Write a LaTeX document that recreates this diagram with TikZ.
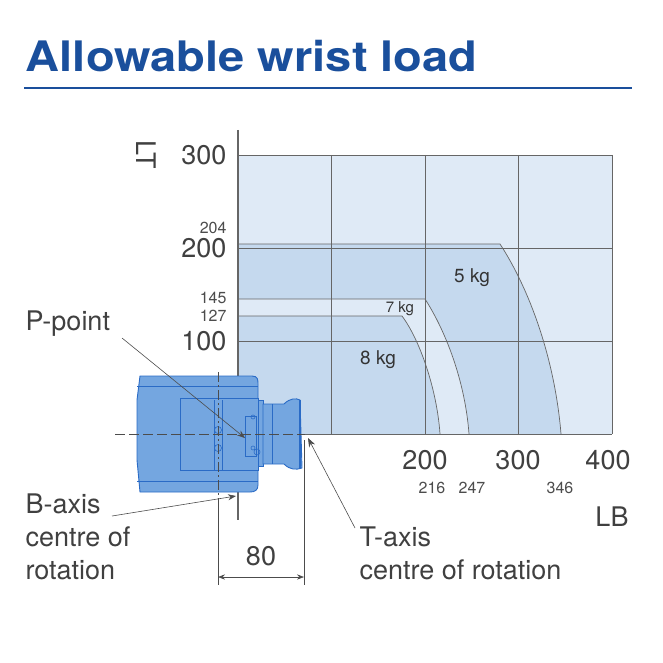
\documentclass[tikz,border=0pt]{standalone}
\usepackage{fontspec}
\setmainfont{TeX Gyre Heros}
\usetikzlibrary{arrows.meta}
\definecolor{ttl}{HTML}{1A4F9C}
\definecolor{lightb}{HTML}{DFEAF6}
\definecolor{medb}{HTML}{C5D9EE}
\definecolor{robo}{HTML}{74A6E0}
\definecolor{robod}{HTML}{2A6BC6}
\definecolor{grid}{HTML}{666666}
\begin{document}
\begin{tikzpicture}[x=1pt,y=-1pt,
  gridl/.style={draw=grid,line width=0.8pt},
  lbl/.style={font=\fontsize{27}{33}\selectfont,text=black!75},
  sm/.style={font=\fontsize{16}{16}\selectfont,text=black!70},
  lead/.style={draw=black!70,line width=0.6pt},
  rob/.style={fill=robo,draw=robod,line width=0.9pt}]
\useasboundingbox (0,0) rectangle (663,663);
\node[anchor=west,font=\bfseries\fontsize{42}{42}\selectfont,text=ttl,xscale=1.12] (title) at (22,56) {Allowable wrist load};
\draw[ttl,line width=1.2pt] (24,88) -- (632,88);
% chart
\fill[lightb] (238,155) rectangle (612,434);
\fill[medb] (238,244) -- (500,244) .. controls (530,290) and (555,360) .. (561,434) -- (238,434) -- cycle;
\fill[lightb] (238,299) -- (425,299) .. controls (445,330) and (465,380) .. (469,434) -- (238,434) -- cycle;
\fill[medb] (238,316) -- (402,316) .. controls (420,340) and (437,390) .. (440,434) -- (238,434) -- cycle;
\foreach \x in {331,425,518,612} \draw[gridl] (\x,155) -- (\x,434);
\foreach \y in {155,248,341} \draw[gridl] (238,\y) -- (612,\y);
\draw[gridl] (238,434) -- (612,434);
\draw[grid,line width=0.7pt] (238,244) -- (500,244) .. controls (530,290) and (555,360) .. (561,434);
\draw[grid,line width=0.7pt] (238,299) -- (425,299) .. controls (445,330) and (465,380) .. (469,434);
\draw[grid,line width=0.7pt] (238,316) -- (402,316) .. controls (420,340) and (437,390) .. (440,434);
\draw[grid,line width=1.2pt] (238,130) -- (238,520);
\node[lbl,anchor=east] (y300) at (230,155) {300};
\node[lbl,anchor=east] (y200) at (230,248) {200};
\node[lbl,anchor=east] (y100) at (230,341) {100};
\node[lbl,rotate=-90] (lt) at (146,155) {LT};
\node[sm,anchor=east] (v204) at (230,228) {204};
\node[sm,anchor=east] (v145) at (230,298) {145};
\node[sm,anchor=east] (v127) at (230,316) {127};
\node[lbl] (x200) at (425,460) {200};
\node[lbl] (x300) at (518,460) {300};
\node[lbl] (x400) at (608,460) {400};
\node[sm] (v216) at (432,488) {216};
\node[sm] (v247) at (472,488) {247};
\node[sm] (v346) at (560,488) {346};
\node[lbl] (lb) at (612,517) {LB};
\node[font=\fontsize{19}{19}\selectfont,text=black!80] (k5) at (472,278) {5 kg};
\node[font=\fontsize{15}{15}\selectfont,text=black!80] (k7) at (400,309) {7 kg};
\node[font=\fontsize{19}{19}\selectfont,text=black!80] (k8) at (378,360) {8 kg};
% wrist
\draw[rob] (140,376) -- (252,376) .. controls (258,376) and (258,380) .. (258,384) -- (258,485) .. controls (258,490) and (255,492) .. (250,492) -- (140,492) -- (137,460) -- (137,400) -- cycle;
\draw[robod,line width=0.8pt] (137,386) -- (258,386);
\draw[robod,line width=0.8pt] (137,481) -- (258,481);
\draw[rob] (180,398) rectangle (258,470);
\draw[rob] (258,400) rectangle (263,466);
\draw[rob] (263,404) -- (284,404) .. controls (290,398) and (296,398) .. (300,400) -- (302,468) .. controls (296,470) and (290,470) .. (284,464) -- (263,464) -- cycle;
\draw[robod,line width=0.6pt] (272,404) -- (272,464);
\draw[robod,line width=1.2pt] (300,400) -- (300,468);
\draw[robod,line width=0.6pt] (245,416) rectangle (256,456);
\draw[robod,line width=0.6pt] (214,400) -- (214,470) (222,400) -- (222,470);
\draw[robod,line width=0.6pt] (218,430) circle (3.5) (218,448) circle (3.5);
\draw[robod,line width=0.6pt] (253,417) circle (2) (253,448) circle (2) (257,452) circle (3);
% centre lines
\draw[black!70,dash pattern=on 10pt off 4pt,line width=0.7pt] (115,434) -- (305,434);
\draw[black!70,dash pattern=on 10pt off 3pt on 2pt off 3pt,line width=0.7pt] (218,372) -- (218,500);
% dimension
\draw[black!70,line width=0.6pt] (218,500) -- (218,585) (304,440) -- (304,585);
\draw[black!70,line width=0.6pt,{Stealth[length=7pt]}-{Stealth[length=7pt]}] (218,577) -- (304,577);
\node[lbl] (d80) at (261,556) {80};
% labels
\node[lbl,anchor=west] (pp) at (22,324) {P-point};
\node[lbl,anchor=north west,align=left] (ba) at (22,490) {B-axis\\centre of\\rotation};
\node[lbl,anchor=north west,align=left] (ta) at (356,523) {T-axis\\centre of rotation};
\coordinate (pend) at (245,438);
\coordinate (bend) at (236,496);
\coordinate (tend) at (308,438);
\draw[lead,-{Stealth[length=8pt]}] (122,338) -- (pend);
\draw[lead,-{Stealth[length=8pt]}] (112,516) -- (bend);
\draw[lead,-{Stealth[length=9pt]}] (355,528) -- (tend);
\end{tikzpicture}
\end{document}
